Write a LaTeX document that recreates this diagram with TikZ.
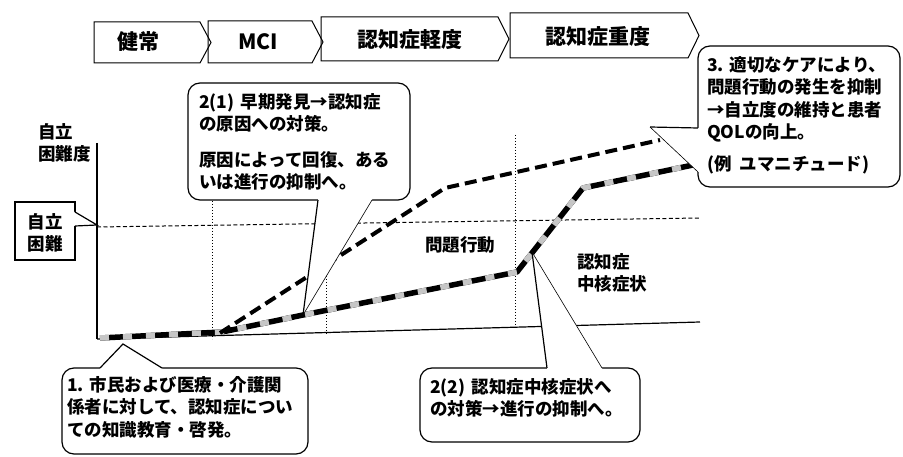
\documentclass[tikz,border=0pt]{standalone}
\usepackage{fontspec}
\setmainfont{Noto Sans CJK JP}
\begin{document}
\begin{tikzpicture}[x=1pt,y=-1pt,
  txt/.style={font=\fontsize{17.5}{22.5}\selectfont\bfseries, align=left, anchor=north west, inner sep=0pt},
  lbl/.style={font=\fontsize{17.5}{22.5}\selectfont\bfseries, inner sep=0pt},
  toplbl/.style={font=\fontsize{21}{24}\selectfont\bfseries, inner sep=0pt},
  chev/.style={draw=black, line width=1pt, line join=miter},
  cbox/.style={draw=black, line width=1.2pt, fill=white, rounded corners=12pt},
  sbox/.style={draw=black, line width=1.2pt, fill=white},
  tailA/.style={draw=black, line width=1.2pt, line join=miter},
  tailB/.style={draw=black, line width=0.6pt},
  axis/.style={draw=black, line width=1.2pt},
  thresh/.style={draw=black, line width=1pt, dash pattern=on 4pt off 2.5pt},
  stage/.style={draw=black, line width=1pt, dash pattern=on 1.2pt off 1.8pt},
  core/.style={draw=black, line width=5.5pt, line join=round},
  coregray/.style={draw=gray!45, line width=5.5pt, dash pattern=on 9pt off 14pt},
  prob/.style={draw=black, line width=4pt, dash pattern=on 12pt off 6pt}
]
\useasboundingbox (0,0) rectangle (903,457);

% stage chevrons
\draw[chev] (94,22) -- (200,22) -- (211,42.5) -- (200,63) -- (94,63) -- cycle;
\draw[chev] (208,21) -- (312,21) -- (323,42) -- (312,63) -- (208,63) -- cycle;
\draw[chev] (321,17) -- (498,17) -- (509,39) -- (498,61) -- (321,61) -- cycle;
\draw[chev] (510,13) -- (688,13) -- (699,35.5) -- (688,58) -- (510,58) -- cycle;
\node[toplbl] (s1) at (138,42) {健常};
\node[toplbl] (s2) at (258,42) {MCI};
\node[toplbl] (s3) at (410,40) {認知症軽度};
\node[toplbl] (s4) at (598,37) {認知症重度};

% axes and guide lines
\draw[stage] (212,135) -- (212,339);
\draw[stage] (326,135) -- (326,334);
\draw[stage] (515,135) -- (515,327);
\draw[thresh] (97,227) -- (700,218);
\draw[axis] (97,143) -- (97,339);
\draw[axis] (97,339) -- (700,322);

\node[txt] (ylab) at (38,123) {自立\\困難度};

% curves
\draw[core] (100,338) -- (222,332) -- (303,315) -- (517,272) -- (583,188) -- (693,165);
\draw[coregray] (100,338) -- (222,332) -- (303,315) -- (517,272) -- (583,188) -- (693,165);
\draw[prob] (220,333) -- (445,188) -- (660,140);

\node[lbl] (pb) at (460,245) {問題行動};
\node[txt] (cs) at (577,253) {認知症\\中核症状};

% callout: 自立困難
\draw[sbox] (15,202) rectangle (75,260);
\fill[white] (73,212) -- (75,212) -- (97,225) -- (75,226) -- (73,226) -- cycle;
\draw[tailA] (75,212) -- (97,225) -- (75,226);
\node[txt, align=center, anchor=center] (th) at (45,233) {自立\\困難};

% callout 2(1)
\draw[cbox] (188,83) rectangle (410,200);
\fill[white] (318,197) -- (318,200) -- (303,315) -- (372,200) -- (372,197) -- cycle;
\draw[tailA] (318,200) -- (303,315);
\draw[tailB] (303,315) -- (372,200);
\node[txt] (c21) at (199,93) {2(1)\hspace{6pt}早期発見→認知症\\の原因への対策。\\[13pt]原因によって回復、ある\\いは進行の抑制へ。};

% callout 3
\draw[cbox] (698,46) rectangle (900,187);
\fill[white] (701,128) -- (698,128) -- (650,127) -- (698,172) -- (701,172) -- cycle;
\draw[tailA] (698,128) -- (650,127);
\draw[tailB] (650,127) -- (698,172);
\node[txt] (c3) at (707,56) {3.\hspace{6pt}適切なケアにより、\\問題行動の発生を抑制\\→自立度の維持と患者\\QOLの向上。\\[9pt](例\hspace{8pt}ユマニチュード)};

% callout 1
\draw[cbox] (62,368) rectangle (308,454);
\fill[white] (100,371) -- (100,368) -- (123,344) -- (162,368) -- (162,371) -- cycle;
\draw[tailA] (100,368) -- (123,344) -- (162,368);
\node[txt] (c1) at (67,376) {1.\hspace{6pt}市民および医療・介護関\\係者に対して、認知症につい\\ての知識教育・啓発。};

% callout 2(2)
\draw[cbox] (420,368) rectangle (640,442);
\fill[white] (547,371) -- (547,368) -- (532,252) -- (602,368) -- (602,371) -- cycle;
\draw[tailA] (547,368) -- (532,252);
\draw[tailB] (532,252) -- (602,368);
\node[txt] (c22) at (430,378) {2(2)\hspace{6pt}認知症中核症状へ\\の対策→進行の抑制へ。};
\end{tikzpicture}
\end{document}
